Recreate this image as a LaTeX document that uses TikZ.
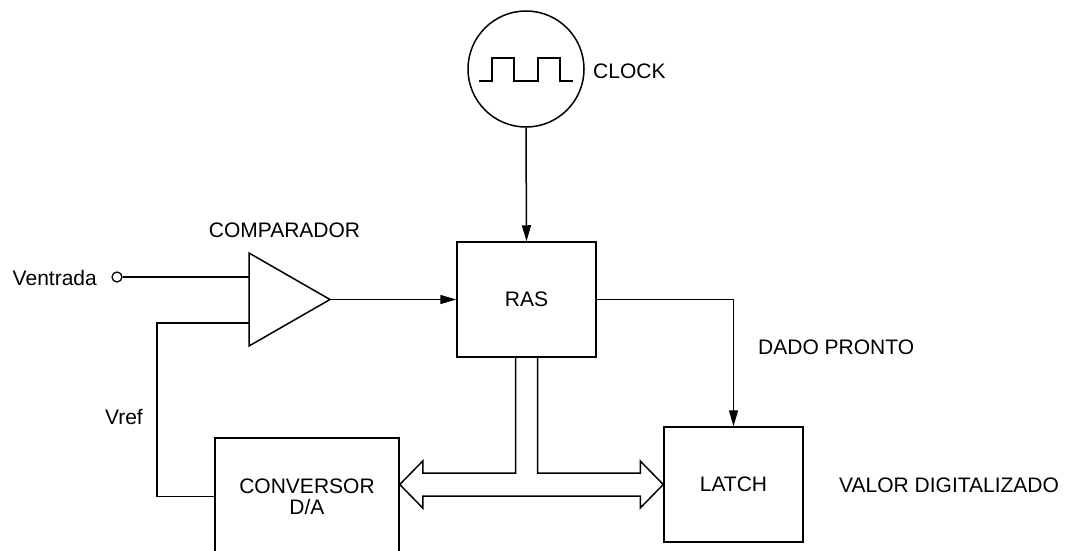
\documentclass[tikz,border=0pt]{standalone}
\usepackage{fontspec}
\setmainfont{Liberation Sans}
\usetikzlibrary{arrows.meta,calc}
\tikzset{
  wire/.style={line width=1.5pt, line join=miter},
  arr/.style={wire, -{Triangle[length=16pt,width=9pt]}},
  blockbox/.style={draw, line width=1.5pt, rectangle, inner sep=0pt, align=center},
  lbl/.style={inner sep=0pt},
}
\begin{document}
\begin{tikzpicture}[x=1pt,y=-1pt,font=\fontsize{21}{21}\selectfont]
\useasboundingbox (0,0) rectangle (1068,550);
\fill[white] (0,0) rectangle (1068,550);
\clip (0,0) rectangle (1068,550);

% clock
\node[draw, circle, line width=1.5pt, minimum size=116pt, inner sep=0pt] (clk) at (526,69) {};
\draw[wire] ($(clk)+(-47,12)$) -- ++(13,0) -- ++(0,-23) -- ++(22,0) -- ++(0,23)
  -- ++(24,0) -- ++(0,-23) -- ++(22,0) -- ++(0,23) -- ++(13,0);
\node[lbl, anchor=west] (clklbl) at (593,71) {CLOCK};

% blocks
\node[blockbox, minimum width=139pt, minimum height=115pt] (ras) at (526.5,299.5) {RAS};
\node[blockbox, minimum width=139pt, minimum height=115pt] (latch) at (733.5,484.5) {LATCH};
\node[blockbox, minimum width=184pt, minimum height=117pt] (conv) at (307,496.5) {CONVERSOR\\D/A};

% comparator
\coordinate (cmpA) at (249,253);
\coordinate (cmpB) at (249,346);
\coordinate (cmpout) at (330,299.5);
\coordinate (cmpin1) at (249,277);
\coordinate (cmpin2) at (249,323);
\draw[wire, line join=miter] (cmpA) -- (cmpout) -- (cmpB) -- cycle;
\node[lbl] (cmplbl) at (284.5,230) {COMPARADOR};

% input terminal
\node[draw, circle, line width=1.3pt, minimum size=10pt, inner sep=0pt] (vin) at (117,277) {};
\node[lbl, anchor=east] (vinlbl) at (97,278) {Ventrada};
\draw[wire] (vin.east) -- (cmpin1);

% Vref feedback
\coordinate (vrefcorner) at (157,323);
\draw[wire] (conv.west) -| (vrefcorner) -- (cmpin2);
\node[lbl, anchor=east] (vreflbl) at (143,417) {Vref};

% comparator -> RAS
\draw[arr] (cmpout) -- (ras.west);

% clock -> RAS
\draw[arr] (clk.south) -- (ras.north);

% data ready
\draw[arr] (ras.east) -| (latch.north);
\node[lbl, anchor=west] (dadolbl) at (758,347) {DADO PRONTO};

% bus
\draw[wire]
  ($(ras.south)+(-11,0)$) -- ($(ras.south |- latch.west)+(-11,-11.5)$)
  -- ($(conv.east |- latch.west)+(23,-11.5)$) -- ++(0,-12)
  -- (conv.east |- latch.west) -- ++(23,23.5) -- ++(0,-12)
  -- ($(latch.west)+(-23,11.5)$) -- ++(0,12)
  -- (latch.west) -- ++(-23,-23.5) -- ++(0,12)
  -- ($(ras.south |- latch.west)+(11,-11.5)$) -- ($(ras.south)+(11,0)$);

\node[lbl, anchor=west] (valorlbl) at (839,485) {VALOR DIGITALIZADO};
\end{tikzpicture}
\end{document}
